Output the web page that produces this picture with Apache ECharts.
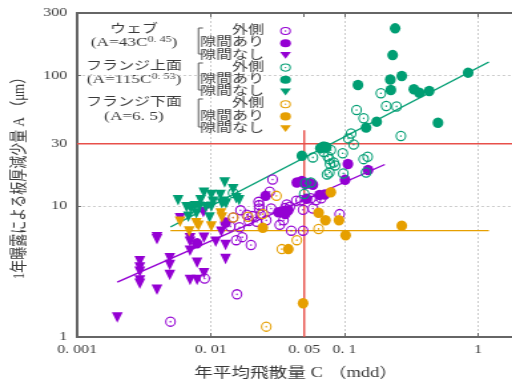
<!DOCTYPE html>
<html>
<head>
<meta charset="utf-8">
<script src="https://cdn.jsdelivr.net/npm/echarts@6/dist/echarts.min.js"></script>
<style>
  html, body { margin: 0; background: #fff; overflow: hidden; }
  #chart { height: 380px; transform-origin: 0 0; }
</style>
</head>
<body>
<div id="chart"></div>
<script>
// tick labels
const xTicks = [0.001, 0.01, 0.05, 0.1, 1];
const xTickLabels = ['0. 001', '0. 01', '0. 05', '0. 1', '1'];
const yTicks = [1, 10, 30, 100, 300];
const yTickLabels = ['1', '10', '30', '100', '300'];

// ウェブ
const webOuter = [[0.005,1.31],[0.009,2.8],[0.0157,2.12],[0.014,7.0],[0.0147,8.2],[0.0155,5.5],[0.0164,6.9],
  [0.0167,9.3],[0.0172,5.8],[0.0186,8.6],[0.0193,7.7],[0.020,5.05],[0.0205,8.4],[0.0221,7.6],[0.0228,10.8],
  [0.023,10.2],[0.023,9.6],[0.0235,8.6],[0.026,7.8],[0.0276,12.9],[0.0283,9.6],[0.029,16],[0.0328,7.2],
  [0.035,7.8],[0.036,9.7],[0.037,10.3],[0.039,9.9],[0.040,6.5],[0.0436,11],[0.047,11.1],[0.049,9.4],
  [0.049,6.5],[0.056,11.5],[0.058,9.6],[0.061,11.1],[0.067,11.5],[0.092,8.7]];
const webGap = [[0.0079,5.2],[0.0129,7.5],[0.0257,12],[0.032,9.0],[0.035,9.2],[0.038,9.3],[0.036,8.7],
  [0.044,15.2],[0.048,15.6],[0.051,14.8],[0.055,15],[0.058,14.6],[0.052,11.4],[0.065,12.2],[0.071,12.3],
  [0.101,15.9],[0.106,21],[0.15,18.9]];
const webNoGap = [[0.002,1.41],[0.00295,3.8],[0.00295,3.4],[0.00295,3.15],[0.00295,2.7],[0.00295,2.55],
  [0.00396,5.8],[0.00396,5.6],[0.00396,2.3],[0.00494,4.0],[0.00494,3.55],[0.00494,2.98],[0.0059,8.1],
  [0.007,5.7],[0.007,5.35],[0.007,4.57],[0.007,2.73],[0.0079,2.73],[0.0079,3.7],[0.0088,9.0],[0.0089,3.07],
  [0.0089,5.74],[0.0109,5.35],[0.012,6.38],[0.0129,5.05],[0.0129,3.95]];

// フランジ上面
const topOuter = [[0.0147,12.6],[0.05,12.4],[0.051,15],[0.056,15.2],[0.058,23.6],[0.070,26],[0.071,28.5],
  [0.074,17.5],[0.075,24],[0.077,18.1],[0.077,22.9],[0.079,26.9],[0.078,21],[0.083,21.6],[0.085,20.5],
  [0.097,25.4],[0.098,17.8],[0.107,33],[0.112,36],[0.117,29.6],[0.123,54.4],[0.139,47],[0.139,22.9],
  [0.145,18.1],[0.149,23.9],[0.187,73],[0.205,58.3],[0.245,57.9],[0.264,34.4]];
const topGap = [[0.048,24.3],[0.066,27.7],[0.069,28.5],[0.073,28.2],[0.145,39.9],[0.174,44.3],[0.126,84.5],
  [0.22,93],[0.222,77.3],[0.229,143],[0.239,229],[0.268,99],[0.33,78.3],[0.363,73.6],[0.43,76],[0.5,43.5],[0.84,105]];
const topNoGap = [[0.0057,11.1],[0.0066,9.8],[0.0068,8.3],[0.0071,9.6],[0.0076,10.0],[0.0078,8.8],[0.0082,9.9],
  [0.0084,11.1],[0.0089,12.7],[0.0092,9.8],[0.0098,8.2],[0.0101,12.2],[0.0101,9.9],[0.0104,10.8],[0.0118,12.2],
  [0.0121,10.5],[0.0125,10.8],[0.013,10.5],[0.0127,15.2],[0.0147,13.5],[0.0155,11.5],[0.0163,11.1]];

// フランジ下面
const botOuter = [[0.0147,8.2],[0.019,8.3],[0.0245,8.7],[0.026,1.2],[0.031,12],[0.034,4.7],[0.044,5.5],[0.064,6.7]];
const botGap = [[0.0245,6.85],[0.038,4.7],[0.049,1.81],[0.064,8.9],[0.072,7.8],[0.079,12.8],[0.091,7.8],[0.102,6.0],[0.268,7.1]];
const botNoGap = [[0.0059,7.6],[0.0069,6.4],[0.0078,7.4],[0.0081,7.1],[0.0101,7.0],[0.0119,8.8],[0.0121,8.2]];

// 近似式 A = k * C^n と描画範囲
const fitK = [43, 115, 6.5];
const fitN = [0.45, 0.53, 0];
const fitRange = [[0.002, 0.2], [0.005, 1.2], [0.005, 1.2]];

// 基準線
const limitA = 30;
const limitC = 0.05;
const limitTop = 38;

const PURPLE = '#9400d3', GREEN = '#009e73', ORANGE = '#e69f00', RED = '#e8504a';
const FONT = '"Liberation Serif", "Noto Sans CJK JP"';
const TEXT = '#3a3a3a';

// 元図は横に引き伸ばされているので、狭く描いて横方向に拡大する
const S = 1.33;
const W = 512 / S;
const el = document.getElementById('chart');
el.style.width = W + 'px';
el.style.transform = 'scaleX(' + S + ')';
const px = v => v / S;   // 画像上のx座標 -> チャート座標

const ring = 'path://M0,-10A10,10 0 1,1 0,10A10,10 0 1,1 0,-10ZM0,-7.5A7.5,7.5 0 1,0 0,7.5A7.5,7.5 0 1,0 0,-7.5ZM0,-1.6A1.6,1.6 0 1,1 0,1.6A1.6,1.6 0 1,1 0,-1.6Z';
const tri = 'path://M-10,-8L10,-8L0,9Z';
const SYM = [px(10.8), 10.5];

function scatter(name, data, symbol, color) {
  return {
    type: 'scatter', name: name, data: data,
    symbol: symbol, symbolSize: SYM,
    itemStyle: { color: color, opacity: 1 },
    z: 3
  };
}
function fitLine(i, color) {
  const r = fitRange[i];
  return {
    type: 'line', silent: true, symbol: 'none', z: 2,
    data: r.map(c => [c, fitK[i] * Math.pow(c, fitN[i])]),
    lineStyle: { color: color, width: 1.4 }
  };
}

const groups = ['ウェブ', 'フランジ上面', 'フランジ下面'];
const items = ['外側', '隙間あり', '隙間なし'];
const series = [
  scatter(groups[0] + '|' + items[0], webOuter, ring, PURPLE),
  scatter(groups[0] + '|' + items[1], webGap, 'circle', PURPLE),
  scatter(groups[0] + '|' + items[2], webNoGap, tri, PURPLE),
  scatter(groups[1] + '|' + items[0], topOuter, ring, GREEN),
  scatter(groups[1] + '|' + items[1], topGap, 'circle', GREEN),
  scatter(groups[1] + '|' + items[2], topNoGap, tri, GREEN),
  scatter(groups[2] + '|' + items[0], botOuter, ring, ORANGE),
  scatter(groups[2] + '|' + items[1], botGap, 'circle', ORANGE),
  scatter(groups[2] + '|' + items[2], botNoGap, tri, ORANGE),
  fitLine(0, PURPLE), fitLine(1, GREEN), fitLine(2, ORANGE),
  { type: 'line', silent: true, symbol: 'none', z: 1, data: [[0.001, limitA], [3, limitA]], lineStyle: { color: RED, width: 1.4 } },
  { type: 'line', silent: true, symbol: 'none', z: 1, data: [[limitC, 1], [limitC, limitTop]], lineStyle: { color: RED, width: 1.4 } }
];

// 凡例は1項目ずつ並べる(同名項目があるため)
const legends = series.slice(0, 9).map((s, i) => ({
  data: [s.name],
  formatter: n => n.split('|')[1],
  orient: 'vertical', align: 'right', right: W - px(297.5), top: 20 + 12.2 * i,
  itemWidth: SYM[0], itemHeight: SYM[1], selectedMode: false,
  textStyle: { fontSize: 12, color: TEXT, fontFamily: FONT, padding: [0, 7, 0, 0] }
}));

// 凡例左側の説明文と括弧
const graphic = [];
const labelRows = [
  ['ウェブ', '(A=43C{s|0. 45})', 30, 43],
  ['フランジ上面', '(A=115C{s|0. 53})', 67, 80],
  ['フランジ下面', '(A=6. 5)', 103, 117]
];
const bracketY = [[28, 54], [63, 90], [99, 127]];
labelRows.forEach((row, i) => {
  graphic.push({ type: 'text', x: px(134), y: row[2], style: { text: row[0], align: 'center', verticalAlign: 'middle', fontSize: 12, fontFamily: FONT, fill: TEXT } });
  graphic.push({ type: 'text', x: px(134), y: row[3], style: {
    text: row[1], align: 'center', verticalAlign: 'middle', fontSize: 13, fontFamily: FONT, fill: TEXT,
    rich: { s: { fontSize: 9, fontFamily: FONT, fill: TEXT, verticalAlign: 'top', padding: [0, 0, 7, 0] } }
  } });
  const b = bracketY[i];
  graphic.push({ type: 'polyline', shape: { points: [[px(203), b[0]], [px(198.5), b[0]], [px(198.5), b[1]], [px(203), b[1]]] }, style: { stroke: '#555', lineWidth: 1, fill: null } });
});

function tickFormatter(ticks, labels) {
  return v => labels[ticks.findIndex(t => Math.abs(t - v) < t * 1e-6)];
}

const chart = echarts.init(el);
chart.setOption({
  animation: false,
  backgroundColor: '#fff',
  textStyle: { fontFamily: FONT },
  grid: { left: px(77), right: W - px(542), top: 13, bottom: 43, outerBoundsMode: 'none', containLabel: false },
  legend: legends,
  xAxis: [{
    type: 'log', min: 0.001, max: 3, position: 'bottom',
    name: '年平均飛散量 C （mdd）', nameLocation: 'middle', nameGap: 29,
    nameTextStyle: { fontSize: 14, color: TEXT, padding: [0, 20, 0, 0] },
    axisLine: { lineStyle: { color: '#666', width: 2 } },
    axisTick: { inside: true, length: 4, lineStyle: { color: '#666' } },
    axisLabel: { customValues: xTicks, formatter: tickFormatter(xTicks, xTickLabels), fontSize: 12, color: TEXT, margin: 7 },
    splitLine: { show: true, lineStyle: { color: '#ccc', type: [2, 2], width: 1 } }
  }, {
    type: 'log', min: 0.001, max: 3, position: 'top',
    axisLine: { lineStyle: { color: '#666', width: 2 } },
    axisTick: { inside: true, length: 4, customValues: [0.01, 0.05, 0.1, 1], lineStyle: { color: '#666' } },
    axisLabel: { show: false },
    splitLine: { show: false }
  }],
  yAxis: {
    type: 'log', min: 1, max: 300,
    name: '1年曝露による板厚減少量 A （μm）', nameLocation: 'middle', nameGap: 29, nameRotate: 90,
    nameTextStyle: { fontSize: 13, color: TEXT },
    axisLine: { lineStyle: { color: '#666', width: 2 } },
    axisTick: { inside: true, length: 3, lineStyle: { color: '#666' } },
    axisLabel: { customValues: yTicks, formatter: tickFormatter(yTicks, yTickLabels), fontSize: 12, color: TEXT, margin: px(10) },
    splitLine: { show: true, lineStyle: { color: '#ccc', type: [2, 2], width: 1 } }
  },
  graphic: graphic,
  series: series
});
</script>
</body>
</html>
